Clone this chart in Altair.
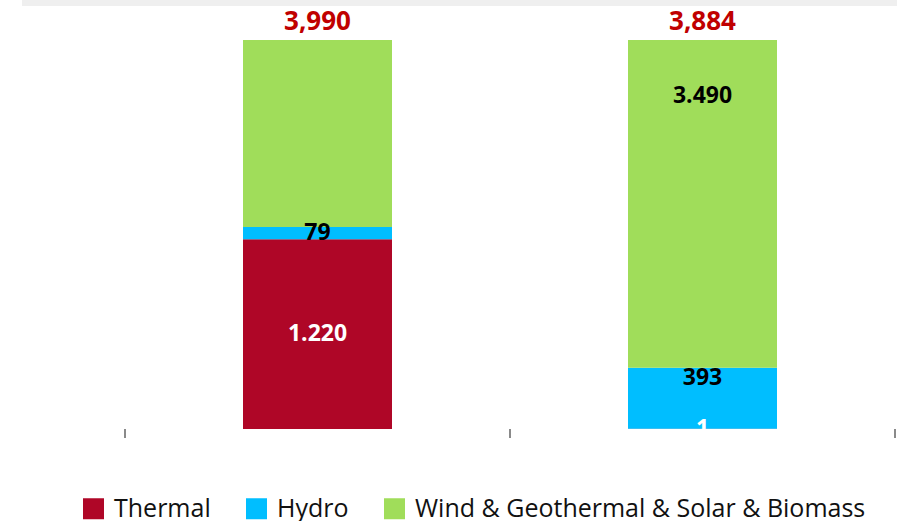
import altair as alt
import pandas as pd

# Installed capacity additions by source (MW)
years = ["2022", "2023"]
thermal = [1220, 1]
hydro = [79, 393]
wind_geo_solar_bio = [2691, 3490]
totals = [3990, 3884]

series_names = ["Thermal", "Hydro", "Wind & Geothermal & Solar & Biomass"]
series_colors = ["#AF0627", "#00BEFF", "#A0DD5A"]

rows = []
for i, yr in enumerate(years):
    base = 0
    for name, vals in zip(series_names, [thermal, hydro, wind_geo_solar_bio]):
        v = vals[i]
        rows.append({
            "year": yr,
            "series": name,
            "value": v,
            "y0": base,
            "y1": base + v,
            "mid": base + v / 2,
            "label": f"{v:,}".replace(",", "."),
        })
        base += v
seg = pd.DataFrame(rows)
tot = pd.DataFrame({"year": years, "total": totals,
                    "label": [f"{t:,}" for t in totals]})
cats = pd.DataFrame({"year": years})

FONT = "Open Sans"
YMAX = 2500
AXIS_GREY = "#8a8a8a"

x_scale = alt.Scale(paddingInner=0, paddingOuter=0)
y_scale = alt.Scale(domain=[0, YMAX], nice=False, zero=True)

bars = alt.Chart(seg).mark_bar(size=149, clip=True).encode(
    x=alt.X(
        "year:N",
        scale=x_scale,
        axis=alt.Axis(
            title=None, labelAngle=0, labelFont=FONT, ticks=False,
            labelFontSize=24, labelColor="#111111", labelPadding=29,
            domainColor=AXIS_GREY, domainWidth=2, grid=False,
        ),
    ),
    y=alt.Y(
        "y0:Q", scale=y_scale,
        axis=alt.Axis(
            title=None, values=[0, 500, 1000, 1500, 2000, 2500],
            labelExpr="replace(datum.label, ',', '.')",
            labelFont=FONT, labelFontSize=24, labelColor="#111111",
            labelPadding=20, domainColor=AXIS_GREY, domainWidth=2,
            tickColor=AXIS_GREY, tickWidth=2, tickSize=8, grid=False,
        ),
    ),
    y2="y1:Q",
    color=alt.Color(
        "series:N",
        scale=alt.Scale(domain=series_names, range=series_colors),
        legend=alt.Legend(
            title=None, orient="none", direction="horizontal",
            legendX=-44, legendY=456, symbolType="square",
            symbolSize=441, symbolStrokeWidth=0, symbolOpacity=1,
            labelFont=FONT, labelFontSize=25, labelColor="#111111",
            labelOffset=8, columnPadding=33, labelLimit=600,
        ),
    ),
    order=alt.Order("y0:Q"),
)

# Category-boundary ticks below the x axis (start of each band, plus the end)
tick_start = alt.Chart(cats).mark_rule(color=AXIS_GREY, strokeWidth=2).encode(
    x=alt.X("year:N", bandPosition=0, axis=None),
    y=alt.value(389), y2=alt.value(398),
)
tick_end = alt.Chart(cats).transform_filter(
    f"datum.year == '{years[-1]}'"
).mark_rule(color=AXIS_GREY, strokeWidth=2).encode(
    x=alt.X("year:N", bandPosition=1, axis=None),
    y=alt.value(389), y2=alt.value(398),
)

seg_text_color = alt.condition(
    alt.datum.series == "Thermal", alt.value("white"), alt.value("black")
)

# Centred value labels inside each segment (only where the centre is on scale)
mid_labels = alt.Chart(seg).transform_filter(
    f"datum.mid <= {YMAX} && !(datum.year == '2023' && datum.series == 'Hydro')"
).mark_text(
    font=FONT, fontSize=23, fontWeight="bold", baseline="middle", clip=True
).encode(
    x=alt.X("year:N", axis=None),
    y=alt.Y("mid:Q", scale=y_scale, axis=None),
    text="label:N",
    color=seg_text_color,
)

# Hydro 2023 label sits at the inner top of its segment
end_label = alt.Chart(seg).transform_filter(
    "datum.year == '2023' && datum.series == 'Hydro'"
).mark_text(
    font=FONT, fontSize=23, fontWeight="bold", baseline="top", dy=-1,
    color="black",
).encode(
    x=alt.X("year:N", axis=None),
    y=alt.Y("y1:Q", scale=y_scale, axis=None),
    text="label:N",
)

# Totals above each (clipped) column
total_labels = alt.Chart(tot).mark_text(
    font=FONT, fontSize=26, fontWeight="bold", baseline="alphabetic",
    dy=-10, color="#C00000",
).encode(
    x=alt.X("year:N", axis=None),
    y=alt.Y("yref:Q", scale=y_scale, axis=None),
    text="label:N",
).transform_calculate(yref=str(YMAX))

# Light shadow strip along the top edge
top_strip = alt.Chart(tot).mark_rule(
    color="#efefef", strokeWidth=6
).encode(
    x=alt.value(-103), x2=alt.value(772), y=alt.value(-37)
)

chart = alt.layer(
    top_strip, bars, tick_start, tick_end, mid_labels, end_label, total_labels
).properties(
    width=770,
    height=389,
    background="white",
    autosize=alt.AutoSizeParams(type="none"),
    padding={"left": 125, "top": 40, "right": 2, "bottom": 92},
).configure_view(
    stroke="transparent", strokeWidth=0
).configure_axis(grid=False)

chart.save("out.html", embed_options={"renderer": "svg", "actions": False})
